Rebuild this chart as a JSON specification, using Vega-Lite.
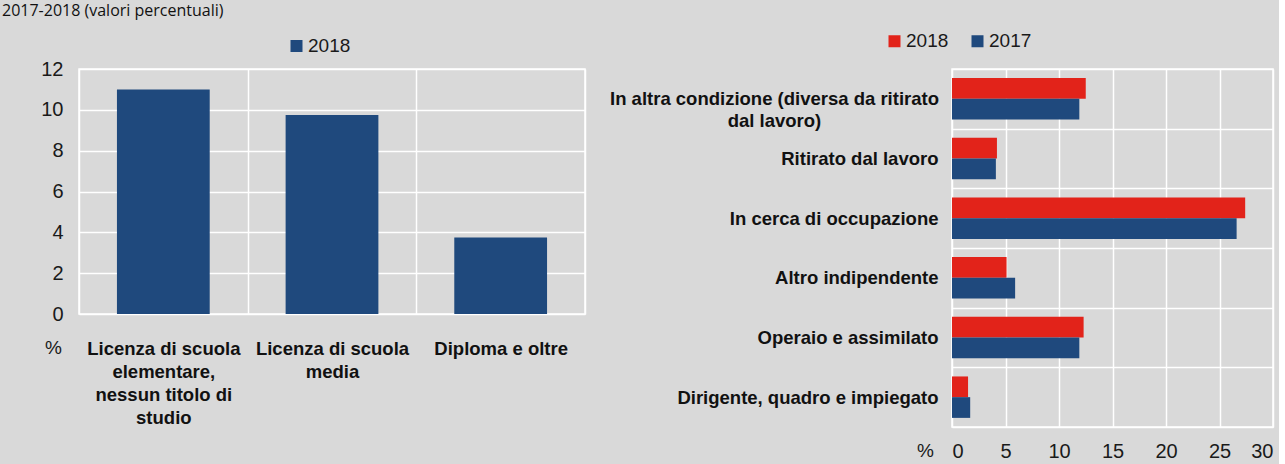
{
  "$schema": "https://vega.github.io/schema/vega-lite/v6.json",
  "background": "#d9d9d9",
  "padding": {"left": 2, "top": 3, "right": 5, "bottom": 2},
  "title": {"text": "2017-2018 (valori percentuali)", "anchor": "start", "fontSize": 16, "fontWeight": "normal", "font": "Open Sans", "color": "#111111", "offset": 11.5, "dx": -38},
  "config": {
    "view": {"stroke": "white", "strokeWidth": 1.5},
    "axis": {"domain": false, "ticks": false, "gridColor": "white", "gridWidth": 1.5, "gridOpacity": 1, "labelFont": "Liberation Sans", "labelColor": "#1a1a1a", "labelFontSize": 20, "titleFont": "Liberation Sans", "titleColor": "#1a1a1a", "titleFontWeight": "normal", "titleFontSize": 19},
    "legend": {"labelFont": "Liberation Sans", "labelFontSize": 19, "labelColor": "#1a1a1a", "symbolType": "square", "symbolSize": 144, "symbolStrokeWidth": 0, "labelOffset": 2, "columnPadding": 19}
  },
  "resolve": {"scale": {"color": "independent"}, "legend": {"color": "independent"}},
  "align": "none",
  "spacing": 22,
  "hconcat": [
    {
      "width": 506,
      "height": 245,
      "data": {"values": [
        {"titolo": "Licenza di scuola elementare, nessun titolo di studio", "anno": "2018", "valore": 11.0},
        {"titolo": "Licenza di scuola media", "anno": "2018", "valore": 9.75},
        {"titolo": "Diploma e oltre", "anno": "2018", "valore": 3.75}
      ]},
      "mark": {"type": "bar", "width": {"band": 0.55}},
      "encoding": {
        "x": {"field": "titolo", "type": "nominal", "sort": null, "scale": {"paddingInner": 0, "paddingOuter": 0},
          "axis": {"title": null, "labelAngle": 0, "labelFontWeight": "bold", "labelFontSize": 18.5, "labelColor": "#111111", "labelPadding": 25, "labelLineHeight": 23, "labelLimit": 0, "grid": true, "tickBand": "extent",
            "labelExpr": "datum.value == 'Licenza di scuola elementare, nessun titolo di studio' ? ['Licenza di scuola', 'elementare,', 'nessun titolo di', 'studio'] : datum.value == 'Licenza di scuola media' ? ['Licenza di scuola', 'media'] : datum.value"}},
        "y": {"field": "valore", "type": "quantitative", "scale": {"domain": [0, 12]},
          "axis": {"values": [0, 2, 4, 6, 8, 10, 12], "title": "%", "titleAngle": 0, "titleX": -26, "titleY": 278, "titleAlign": "center", "titleBaseline": "middle", "labelPadding": 16}},
        "color": {"field": "anno", "type": "nominal", "scale": {"domain": ["2018"], "range": ["#1f497d"]},
          "legend": {"title": null, "orient": "none", "legendX": 208, "legendY": -32.5, "direction": "horizontal"}}
      }
    },
    {
      "width": 321,
      "height": 358,
      "data": {"values": [
        {"condizione": "In altra condizione (diversa da ritirato dal lavoro)", "anno": "2018", "valore": 12.5},
        {"condizione": "In altra condizione (diversa da ritirato dal lavoro)", "anno": "2017", "valore": 11.9},
        {"condizione": "Ritirato dal lavoro", "anno": "2018", "valore": 4.2},
        {"condizione": "Ritirato dal lavoro", "anno": "2017", "valore": 4.1},
        {"condizione": "In cerca di occupazione", "anno": "2018", "valore": 27.4},
        {"condizione": "In cerca di occupazione", "anno": "2017", "valore": 26.6},
        {"condizione": "Altro indipendente", "anno": "2018", "valore": 5.1},
        {"condizione": "Altro indipendente", "anno": "2017", "valore": 5.9},
        {"condizione": "Operaio e assimilato", "anno": "2018", "valore": 12.3},
        {"condizione": "Operaio e assimilato", "anno": "2017", "valore": 11.9},
        {"condizione": "Dirigente, quadro e impiegato", "anno": "2018", "valore": 1.5},
        {"condizione": "Dirigente, quadro e impiegato", "anno": "2017", "valore": 1.7}
      ]},
      "mark": "bar",
      "encoding": {
        "y": {"field": "condizione", "type": "nominal", "sort": null, "scale": {"paddingInner": 0, "paddingOuter": 0},
          "axis": {"title": null, "grid": true, "tickBand": "extent", "labelFontWeight": "bold", "labelFontSize": 18.5, "labelColor": "#111111", "labelLimit": 0, "labelLineHeight": 22,
            "labelPadding": {"condition": {"test": "datum.value == 'In altra condizione (diversa da ritirato dal lavoro)'", "value": 178}, "value": 14},
            "labelAlign": {"condition": {"test": "datum.value == 'In altra condizione (diversa da ritirato dal lavoro)'", "value": "center"}, "value": "right"},
            "labelExpr": "datum.value == 'In altra condizione (diversa da ritirato dal lavoro)' ? ['In altra condizione (diversa da ritirato', 'dal lavoro)'] : datum.value"}},
        "yOffset": {"field": "anno", "type": "nominal", "sort": ["2018", "2017"], "scale": {"paddingInner": 0, "paddingOuter": 0.44}},
        "x": {"field": "valore", "type": "quantitative", "scale": {"domain": [0, 30]},
          "axis": {"values": [0, 5, 10, 15, 20, 25, 30], "title": "%", "titleAngle": 0, "titleX": -27, "titleY": 23, "titleAlign": "center", "titleBaseline": "middle", "labelPadding": 14}},
        "color": {"field": "anno", "type": "nominal", "sort": ["2018", "2017"], "scale": {"domain": ["2018", "2017"], "range": ["#e2231a", "#1f497d"]},
          "legend": {"title": null, "orient": "none", "legendX": -67, "legendY": -37.5, "direction": "horizontal"}}
      }
    }
  ]
}
